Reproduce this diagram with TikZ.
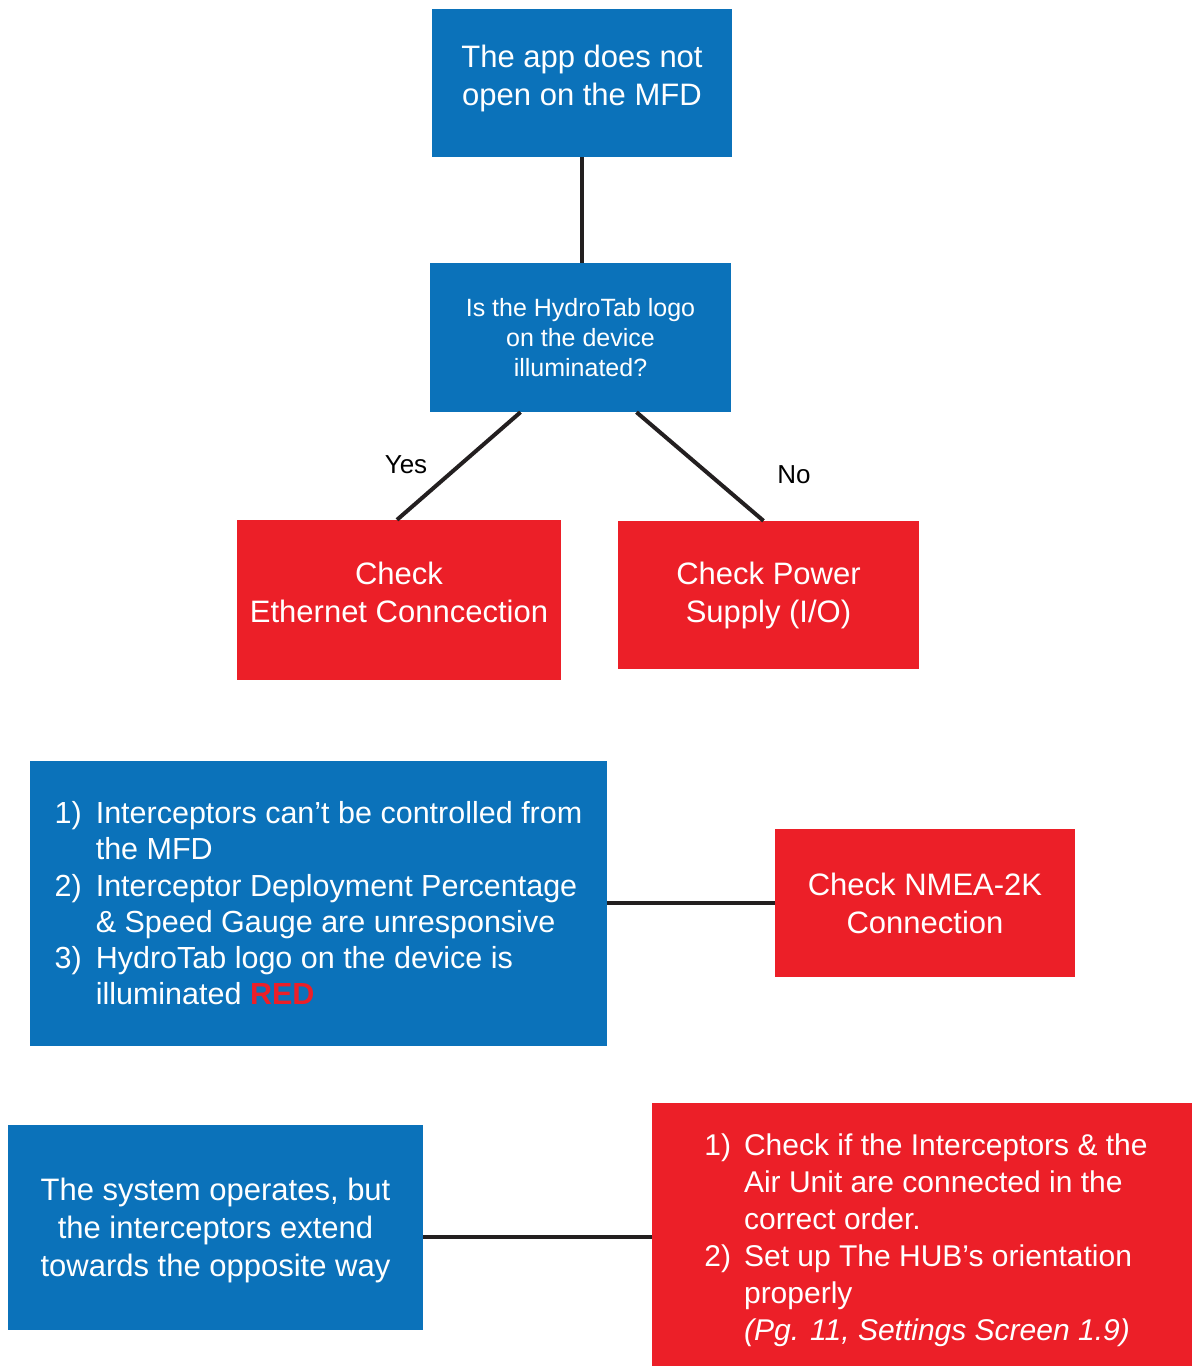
\documentclass[tikz,border=0pt]{standalone}
\usepackage{fontspec}
\setmainfont{Liberation Sans}
\definecolor{hblue}{RGB}{11,114,186}
\definecolor{hred}{RGB}{236,31,40}
\definecolor{hline}{RGB}{35,31,32}
\newcommand{\bigtxt}{\fontsize{31}{38}\selectfont}
\newcommand{\listtxt}{\fontsize{30.5}{36.2}\selectfont}
\newcommand{\fixtxt}{\fontsize{30}{37}\selectfont}

\begin{document}
\begin{tikzpicture}[x=1pt,y=-1pt,
    box/.style={inner sep=0pt,text=white,align=center,font=\bigtxt},
    bluebox/.style={box,fill=hblue},
    redbox/.style={box,fill=hred},
    link/.style={draw=hline,line width=4pt}]
  \useasboundingbox (0,0) rectangle (1192,1366);

  \node (app)   [bluebox,minimum width=300pt,minimum height=148pt] at (582,83)
        {\begin{tabular}{@{}c@{}}The app does not\\open on the MFD\\[9pt]\end{tabular}};
  \node (logo)  [bluebox,minimum width=301pt,minimum height=149pt,
                 font=\fontsize{25}{30}\selectfont] at (580.5,337.5)
        {Is the HydroTab logo\\on the device\\illuminated?};
  \node (eth)   [redbox,minimum width=324pt,minimum height=160pt] at (399,600)
        {\begin{tabular}{@{}c@{}}Check\\Ethernet Conncection\\[9pt]\end{tabular}};
  \node (power) [redbox,minimum width=301pt,minimum height=148pt] at (768.5,595)
        {Check Power\\Supply (I/O)};

  \node (yes) [font=\fontsize{26}{30}\selectfont] at (406,465) {Yes};
  \node (no)  [font=\fontsize{26}{30}\selectfont] at (794,475) {No};

  \node (symp)  [bluebox,minimum width=577pt,minimum height=285pt] at (318.5,903)
        {\listtxt\begin{tabular}{@{}l@{\hspace{14pt}}l@{}}
          1) & Interceptors can’t be controlled from\\
             & the MFD\\
          2) & Interceptor Deployment Percentage\\
             & \& Speed Gauge are unresponsive\\
          3) & HydroTab logo on the device is\\
             & illuminated \textcolor{hred}{\textbf{RED}}\\[-8pt]
        \end{tabular}};
  \node (nmea)  [redbox,minimum width=300pt,minimum height=148pt] at (925,903)
        {Check NMEA-2K\\Connection};

  \node (sys)   [bluebox,minimum width=415pt,minimum height=205pt] at (215.5,1227.5)
        {\begin{tabular}{@{}c@{}}The system operates, but\\the interceptors extend\\towards the opposite way\\[-6pt]\end{tabular}};
  \node (fix)   [redbox,minimum width=540pt,minimum height=263pt] at (922,1234.5)
        {\hspace*{8pt}\fixtxt\begin{tabular}{@{}l@{\hspace{13pt}}l@{}}
          1) & Check if the Interceptors \& the\\
             & Air Unit are connected in the\\
             & correct order.\\
          2) & Set up The HUB’s orientation\\
             & properly\\
             & \textit{(Pg. 11, Settings Screen 1.9)}\\[-13pt]
        \end{tabular}};

  \draw [link] (app.south) -- (app.south |- logo.north);
  \draw [link] ([xshift=-60pt]logo.south) -- ([xshift=-2pt]eth.north);
  \draw [link] ([xshift=56pt]logo.south) -- ([xshift=-5pt]power.north);
  \draw [link] (symp) -- (nmea);
  \draw [link] ([yshift=-2pt]sys.east |- fix.west) -- ([yshift=-2pt]fix.west);
\end{tikzpicture}
\end{document}
